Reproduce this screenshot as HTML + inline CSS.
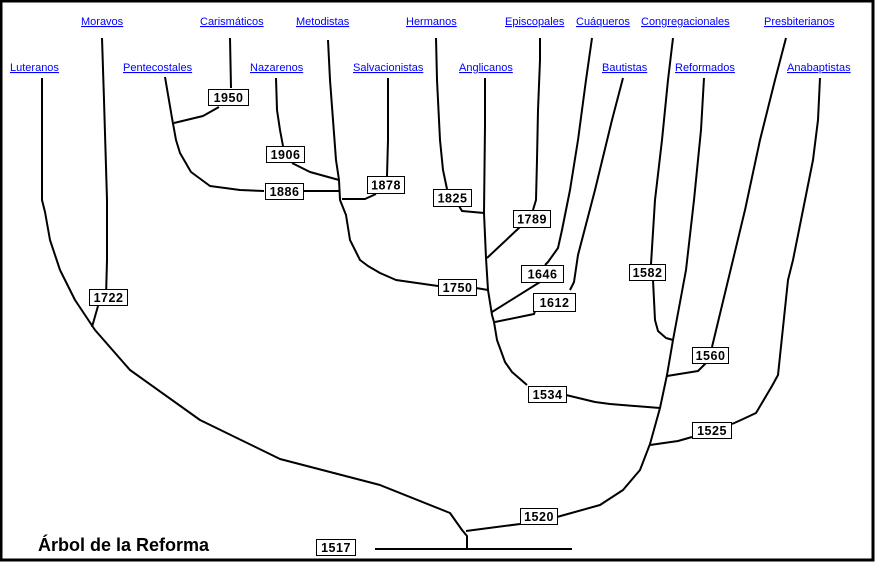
<!DOCTYPE html>
<html><head><meta charset="utf-8"><style>
html,body{margin:0;padding:0;background:#fff}
svg{display:block}
.l{font-family:"Liberation Sans",sans-serif;font-size:11px;fill:#00f;text-decoration:underline}
.y{font-family:"Liberation Sans",sans-serif;font-size:12.5px;font-weight:bold;fill:#000;letter-spacing:0.5px}
</style></head><body>
<svg width="875" height="562" viewBox="0 0 875 562" xmlns="http://www.w3.org/2000/svg">
<rect x="1" y="1" width="872" height="559" fill="#fff" stroke="#000" stroke-width="3"/>
<g class="l">
<text x="81" y="25">Moravos</text>
<text x="200" y="25">Carismáticos</text>
<text x="296" y="25">Metodistas</text>
<text x="406" y="25">Hermanos</text>
<text x="505" y="25">Episcopales</text>
<text x="576" y="25">Cuáqueros</text>
<text x="641" y="25">Congregacionales</text>
<text x="764" y="25">Presbiterianos</text>
<text x="10" y="71">Luteranos</text>
<text x="123" y="71">Pentecostales</text>
<text x="250" y="71">Nazarenos</text>
<text x="353" y="71">Salvacionistas</text>
<text x="459" y="71">Anglicanos</text>
<text x="602" y="71">Bautistas</text>
<text x="675" y="71">Reformados</text>
<text x="787" y="71">Anabaptistas</text>
</g>
<g fill="none" stroke="#000" stroke-width="2" stroke-linejoin="round">
<polyline points="42,78 42,200 45,212 50,240 60,270 75,300 95,330 130,370 200,420 280,459 380,485 450,513 462,530 467,536 467,550"/>
<polyline points="102,38 104,100 107,200 107,260 106,297"/>
<polyline points="98,306 92,327"/>
<polyline points="230,38 231,88"/>
<polyline points="219,107 203,116 174,123"/>
<polyline points="165,77 172,118 176,140 180,153 191,172 210,186 240,190 264,191"/>
<polyline points="303,191 340,191"/>
<polyline points="276,78 277,110 280,130 283,146"/>
<polyline points="292,163 310,172 339,180"/>
<polyline points="328,40 330,80 333,120 336,160 339,180 340,200 346,215 350,240 360,260 368,266 380,273 396,280 438,286"/>
<polyline points="476,288 488,290"/>
<polyline points="388,78 388,140 387,176"/>
<polyline points="376,194 365,199 342,199"/>
<polyline points="436,38 437,80 440,140 443,170 447,189"/>
<polyline points="459,206 462,211 484,213"/>
<polyline points="485,78 485,125 484,213 486,258 488,290 492,315 494,322 497,340 505,362 512,372 527,385"/>
<polyline points="566,395 595,402 610,404 660,408"/>
<polyline points="540,38 540,60 538,110 537,160 536,200 533,210"/>
<polyline points="520,227 487,258"/>
<polyline points="592,38 586,80 578,140 570,190 562,230 558,248 548,262 545,265"/>
<polyline points="540,282 492,312"/>
<polyline points="623,78 612,120 595,190 578,255 574,282 570,290"/>
<polyline points="535,311 534,314 495,322"/>
<polyline points="673,38 668,80 662,140 655,200 651,264"/>
<polyline points="653,280 655,320 658,331 666,338 673,340"/>
<polyline points="704,78 701,130 694,200 686,270 673,340 667,375 660,408 650,444 640,470 623,490 600,505 557,517"/>
<polyline points="520,524 466,531"/>
<polyline points="786,38 775,80 760,140 745,210 712,347"/>
<polyline points="706,363 698,371 667,376"/>
<polyline points="820,78 818,120 813,160 805,200 793,260 788,280 778,375 772,386 756,413 741,420 732,424"/>
<polyline points="692,437 678,441 650,445"/>
<line x1="375" y1="549" x2="572" y2="549"/>
</g>
<g fill="#fff" stroke="#000" stroke-width="1">
<rect x="89.5" y="289.5" width="38" height="16"/>
<rect x="208.5" y="89.5" width="40" height="16"/>
<rect x="265.5" y="183.5" width="38" height="16"/>
<rect x="266.5" y="146.5" width="38" height="16"/>
<rect x="438.5" y="279.5" width="38" height="16"/>
<rect x="367.5" y="176.5" width="37" height="17"/>
<rect x="433.5" y="189.5" width="38" height="17"/>
<rect x="528.5" y="386.5" width="38" height="16"/>
<rect x="513.5" y="210.5" width="37" height="17"/>
<rect x="521.5" y="265.5" width="42" height="17"/>
<rect x="533.5" y="293.5" width="42" height="18"/>
<rect x="629.5" y="264.5" width="36" height="16"/>
<rect x="520.5" y="508.5" width="37" height="16"/>
<rect x="692.5" y="347.5" width="36" height="16"/>
<rect x="692.5" y="422.5" width="39" height="16"/>
<rect x="316.5" y="539.5" width="39" height="16"/>
</g>
<g class="y" text-anchor="middle">
<text x="108.5" y="302">1722</text>
<text x="228.5" y="102">1950</text>
<text x="284.5" y="196">1886</text>
<text x="285.5" y="159">1906</text>
<text x="457.5" y="292">1750</text>
<text x="386" y="189.5">1878</text>
<text x="452.5" y="202.5">1825</text>
<text x="547.5" y="399">1534</text>
<text x="532" y="223.5">1789</text>
<text x="542.5" y="278.5">1646</text>
<text x="554.5" y="307">1612</text>
<text x="647.5" y="277">1582</text>
<text x="539" y="521">1520</text>
<text x="710.5" y="360">1560</text>
<text x="712" y="435">1525</text>
<text x="336" y="552">1517</text>
</g>
<text x="38" y="551" font-family="Liberation Sans,sans-serif" font-size="18" font-weight="bold">Árbol de la Reforma</text>
</svg>
</body></html>
